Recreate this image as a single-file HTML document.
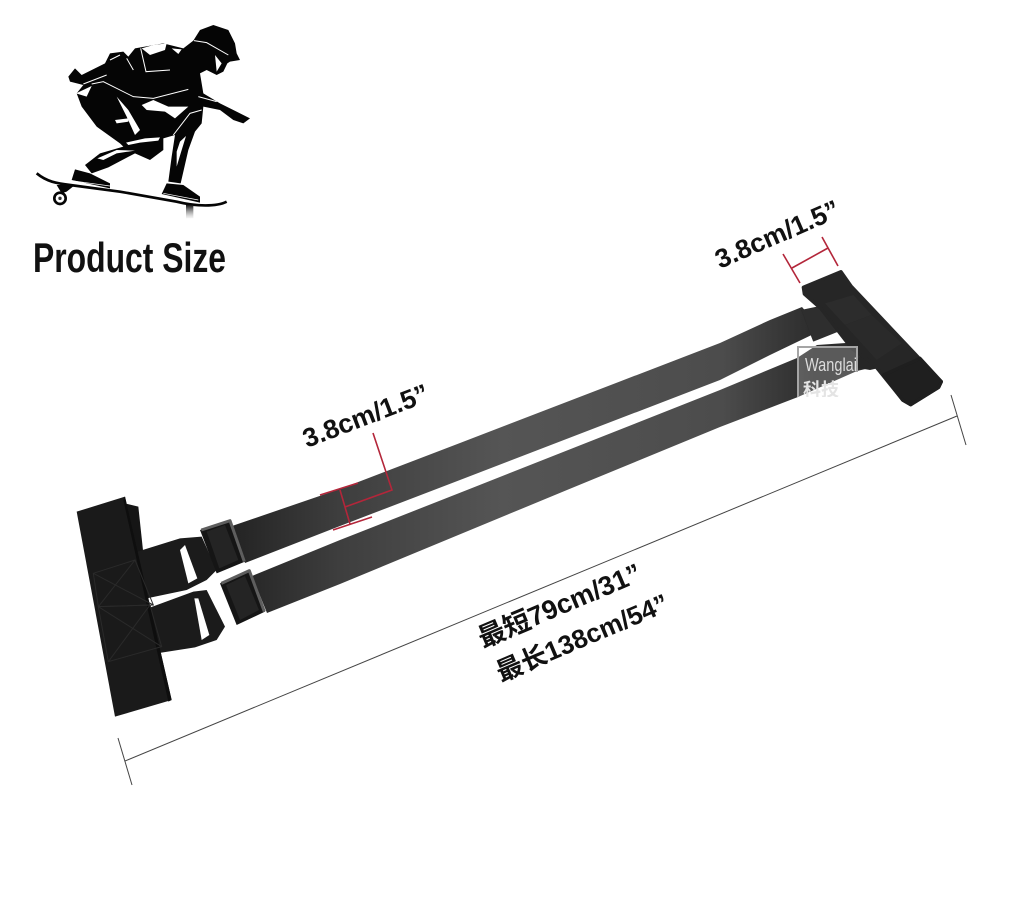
<!DOCTYPE html>
<html lang="zh">
<head>
<meta charset="utf-8">
<title>Product Size</title>
<style>
html,body{margin:0;padding:0;background:#fff;}
svg{display:block;}
text{font-family:"Liberation Sans","Noto Sans CJK SC",sans-serif;}
</style>
</head>
<body>
<svg width="1024" height="916" viewBox="0 0 1024 916" xmlns="http://www.w3.org/2000/svg">
<defs>
<linearGradient id="s1" gradientUnits="userSpaceOnUse" x1="235" y1="0" x2="815" y2="0">
<stop offset="0" stop-color="#242424"/><stop offset=".18" stop-color="#3e3e3e"/><stop offset=".46" stop-color="#555"/><stop offset=".84" stop-color="#4c4c4c"/><stop offset="1" stop-color="#2c2c2c"/>
</linearGradient>
<linearGradient id="fade" x1="0" y1="0" x2="0" y2="1">
<stop offset="0" stop-color="#111"/><stop offset="1" stop-color="#999" stop-opacity=".1"/>
</linearGradient>
<clipPath id="wm"><rect x="798" y="347" width="59" height="50"/></clipPath>
</defs>
<rect width="1024" height="916" fill="#fff"/>

<!-- skater -->
<g transform="translate(20,10) scale(.33333)">
<path d="M145 200L165 175L185 195L255 160L270 130L310 125L325 140L345 115L430 100L490 115L520 92L540 60L580 45L625 60L645 100L650 130L660 150L630 155L622 160L610 185L590 195L560 180L540 190L550 250L600 280L640 300L690 325L670 340L640 330L600 300L550 290L545 340L525 365L505 420L482 520L445 515L455 440L465 375L430 385L430 420L390 450L345 430L265 472L215 490L195 465L240 430L310 410L300 400L230 350L185 290L170 250L190 225L150 215Z" fill="#050505"/>
<g fill="#fff">
<path d="M365 285L400 270L445 290L505 290L465 325L435 305L380 300Z"/>
<path d="M290 260L325 300L360 360L345 375L320 320Z"/>
<path d="M285 330L325 325L325 335L290 340Z"/>
<path d="M318 398L375 385L420 382L415 392L360 398L325 405Z"/>
<path d="M480 395L498 378L482 430L470 470L470 425Z"/>
<path d="M232 445L290 420L345 422L290 430L250 450Z"/>
<path d="M365 115L390 135L435 120L440 100L400 105Z"/>
<path d="M455 115L485 118L475 132Z"/>
<path d="M585 135L605 160L590 185Z"/>
<path d="M168 250L215 228L200 260Z"/>
</g>
<g fill="none" stroke="#fff" stroke-width="3">
<path d="M522 92L560 98L625 135"/>
<path d="M362 115L378 185L450 180"/>
<path d="M190 222L260 195M270 150L300 135M320 145L340 180"/>
<path d="M215 222L250 215L340 260L400 265L505 238"/>
<path d="M460 375L510 310L545 300"/>
<path d="M535 260L590 275"/>
</g>
<path d="M155 510L165 478L210 490L270 520L270 535Z" fill="#050505"/>
<path d="M425 552L440 520L490 525L540 560L540 578Z" fill="#050505"/>
<path d="M50 490C80 515 110 520 150 525L300 545L470 575C530 590 590 590 620 575" fill="none" stroke="#050505" stroke-width="8"/>
<path d="M155 512L270 528M430 550L535 570" stroke="#fff" stroke-width="2"/>
<path d="M110 525L165 525L140 545L125 550Z" fill="#050505"/>
<circle cx="120" cy="565" r="17" fill="none" stroke="#050505" stroke-width="8"/>
<circle cx="120" cy="565" r="5" fill="#333"/>
<rect x="498" y="585" width="22" height="40" fill="url(#fade)"/>
</g>

<text x="33" y="272" font-size="42" fill="#111" textLength="193" lengthAdjust="spacingAndGlyphs" style="font-weight:700">Product Size</text>

<!-- straps -->
<path d="M232 526L340 489L460 443L720 343L770 320L802 307L822 330L770 355L720 380L460 480L340 526L245 563Z" fill="url(#s1)"/>
<path d="M252 576L340 540L467 490L720 390L797 358L817 345L860 342L878 366L857 371L798 397L720 427L567 490L340 584L267 613Z" fill="url(#s1)"/>
<path d="M801 310L820 306L838 330L813 341Z" fill="#2b2b2b"/>

<!-- left end, zoom coordinates -->
<g transform="translate(60,470) scale(.33333)">
<path d="M195 100L235 110L250 250L225 260Z" fill="#151515"/>
<path d="M200 255L360 205L425 200L470 300L440 330L380 360L260 385Z" fill="#1b1b1b"/>
<path d="M250 420L400 365L440 360L495 470L470 510L405 532L290 550Z" fill="#1b1b1b"/>
<path d="M360 240L375 225L412 325L385 340Z" fill="#fff"/>
<path d="M403 385L415 385L448 495L425 510Z" fill="#fff"/>
<path d="M420 180L510 150L555 275L470 310Z" fill="#151515"/>
<path d="M480 340L570 300L615 425L530 465Z" fill="#151515"/>
<path d="M424 180L510 152L553 275" fill="none" stroke="#5e5e5e" stroke-width="9" stroke-linejoin="round"/>
<path d="M484 340L568 302L613 425" fill="none" stroke="#5e5e5e" stroke-width="9" stroke-linejoin="round"/>
<path d="M440 185L495 165L535 270L478 295Z" fill="#242424"/>
<path d="M498 345L555 318L597 420L540 450Z" fill="#242424"/>
<path d="M50 125L195 80L335 690L165 740Z" fill="#1a1a1a"/>
<path d="M195 80L335 690L325 695L190 90Z" fill="#0e0e0e"/>
<g fill="none" stroke="#2a2a2a" stroke-width="3">
<path d="M100 310L225 270L280 405L115 410ZM100 310L280 405M225 270L115 410"/>
<path d="M115 410L270 405L305 530L145 575ZM115 410L305 530M270 405L145 575"/>
</g>
</g>

<!-- right end, zoom coordinates -->
<g transform="translate(770,270) scale(.33333)">
<path d="M95 120L150 110L205 185L130 215Z" fill="#2e2e2e"/>
<path d="M240 290L300 230L345 290L300 300Z" fill="#262626"/>
<path d="M100 52L213 5L243 48L514 335L506 352L422 404L398 390L312 283L245 235L152 115L103 72Z" fill="#262626" stroke="#262626" stroke-width="10" stroke-linejoin="round"/>
<path d="M398 390L340 315L450 265L514 335L506 352L422 404Z" fill="#1f1f1f" stroke="#1f1f1f" stroke-width="10" stroke-linejoin="round"/>
<path d="M165 100L250 75L305 135L225 165Z" fill="#2c2c2c"/>
<path d="M225 165L305 135L395 220L320 270Z" fill="#2a2a2a"/>
</g>

<!-- watermark -->
<rect x="798" y="347" width="59" height="50" fill="#fff" opacity=".22"/>
<path d="M798 397V347H857V372" fill="none" stroke="#a5a5a5" stroke-width="2"/>
<g clip-path="url(#wm)">
<text x="805" y="371" font-size="18" fill="#dcdcdc" textLength="52" lengthAdjust="spacingAndGlyphs">Wanglai</text>
<text x="803" y="396" font-size="18" fill="#e4e4e4" style="font-weight:700">科技</text>
</g>

<!-- red measures -->
<g stroke="#b3263a" stroke-width="1.6" fill="none">
<path d="M320 495L358 483"/>
<path d="M333 530L372 517"/>
<path d="M340 490L350 524"/>
<path d="M345 507L392 490L373 433"/>
<path d="M783 254L800 283"/>
<path d="M822 237L838 266"/>
<path d="M792 268L828 248"/>
</g>

<!-- dimension line -->
<g stroke="#444" stroke-width="1" fill="none">
<path d="M125 761L957 416"/>
<path d="M118 738L132 785"/>
<path d="M951 395L966 445"/>
</g>

<!-- labels -->
<g fill="#111">
<text transform="translate(307,448) rotate(-21)" font-size="26.5" style="font-weight:700">3.8cm/1.5”</text>
<text transform="translate(720,269) rotate(-23.5)" font-size="26.5" style="font-weight:700">3.8cm/1.5”</text>
<text transform="translate(483,648) rotate(-23)" font-size="27" style="font-weight:700">最短79cm/31”</text>
<text transform="translate(501,682) rotate(-23)" font-size="26.3" style="font-weight:700">最长138cm/54”</text>
</g>
</svg>
</body>
</html>
